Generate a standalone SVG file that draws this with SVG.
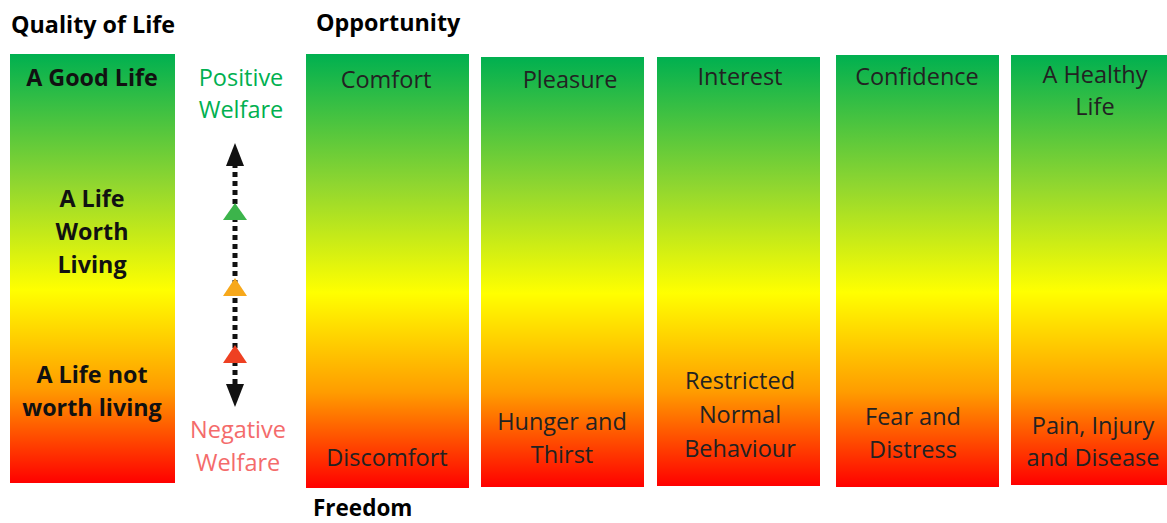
<svg xmlns="http://www.w3.org/2000/svg" width="1167" height="523" viewBox="0 0 1167 523">
<defs>
<linearGradient id="g" x1="0" y1="0" x2="0" y2="1">
<stop offset="0" stop-color="#00b050"/>
<stop offset="0.3" stop-color="#8fd630"/>
<stop offset="0.55" stop-color="#ffff00"/>
<stop offset="0.78" stop-color="#ff9c00"/>
<stop offset="1" stop-color="#ff0000"/>
</linearGradient>
</defs>
<style>
text{font-family:"Open Sans","Liberation Sans",sans-serif;text-anchor:middle}
.b{font-weight:bold;font-size:23.3px;fill:#111}
.t{font-size:23.5px;fill:#222}
.h{font-weight:bold;font-size:23.3px;fill:#000;text-anchor:start}
.bar{fill:url(#g)}
.pos{fill:#00b050}
.neg{fill:#f46b6b}
</style>
<rect width="1167" height="523" fill="#fff"/>
<text class="h" x="11" y="33">Quality of Life</text>
<text class="h" x="316" y="31">Opportunity</text>
<text class="h" x="313" y="516" style="font-size:22.5px">Freedom</text>
<g id="quality">
<rect class="bar" x="10" y="54" width="165" height="429"/>
<text class="b" x="92" y="86">A Good Life</text>
<text class="b" x="92" y="207">A Life</text>
<text class="b" x="92" y="240">Worth</text>
<text class="b" x="92" y="273">Living</text>
<text class="b" x="92" y="383">A Life not</text>
<text class="b" x="92" y="416">worth living</text>
</g>
<g id="welfare">
<text class="t pos" x="241" y="86">Positive</text>
<text class="t pos" x="241" y="118">Welfare</text>
<text class="t neg" x="238" y="438">Negative</text>
<text class="t neg" x="238" y="471">Welfare</text>
</g>
<g id="connectors">
<line x1="235" y1="163" x2="235" y2="387" stroke="#111" stroke-width="5" stroke-dasharray="5,4"/>
<polygon points="235,143 226,166 244,166" fill="#111"/>
<polygon points="235,407 226,384 244,384" fill="#111"/>
<polygon points="235,203 223,220 247,220" fill="#3cb44b"/>
<polygon points="235,278 223,296 247,296" fill="#f7a81b"/>
<polygon points="235,345 223,363 247,363" fill="#ee4022"/>
</g>
<g id="comfort">
<rect class="bar" x="306" y="54" width="163" height="434"/>
<text class="t" x="386" y="88">Comfort</text>
<text class="t" x="387" y="466">Discomfort</text>
</g>
<g id="pleasure">
<rect class="bar" x="481" y="57" width="163" height="430"/>
<text class="t" x="570" y="88">Pleasure</text>
<text class="t" x="562" y="430">Hunger and</text>
<text class="t" x="562" y="463">Thirst</text>
</g>
<g id="interest">
<rect class="bar" x="657" y="57" width="163" height="429"/>
<text class="t" x="740" y="85">Interest</text>
<text class="t" x="740" y="389">Restricted</text>
<text class="t" x="740" y="423">Normal</text>
<text class="t" x="740" y="457">Behaviour</text>
</g>
<g id="confidence">
<rect class="bar" x="836" y="55" width="163" height="432"/>
<text class="t" x="917" y="85">Confidence</text>
<text class="t" x="913" y="425">Fear and</text>
<text class="t" x="913" y="458">Distress</text>
</g>
<g id="healthy">
<rect class="bar" x="1011" y="55" width="156" height="430"/>
<text class="t" x="1095" y="83">A Healthy</text>
<text class="t" x="1095" y="115">Life</text>
<text class="t" x="1093" y="434">Pain, Injury</text>
<text class="t" x="1093" y="466">and Disease</text>
</g>
</svg>
